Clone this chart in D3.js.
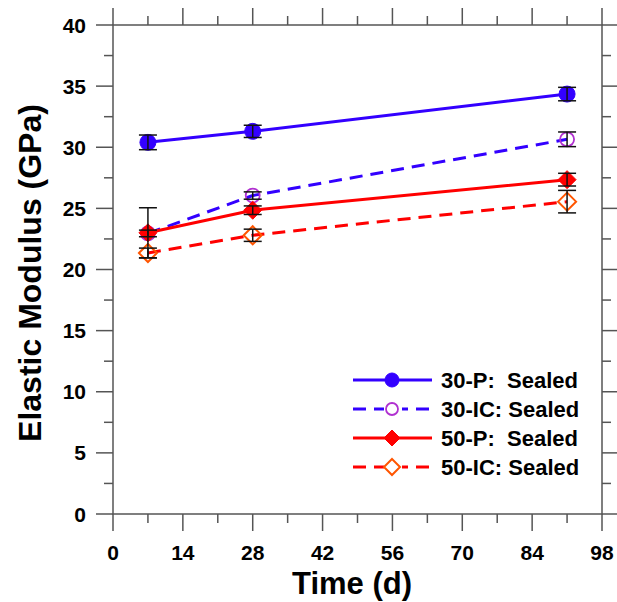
<!DOCTYPE html>
<html>
<head>
<meta charset="utf-8">
<script src="https://cdn.jsdelivr.net/npm/d3@7"></script>
<style>
  body { margin: 0; background: #fff; }
  svg { display: block; }
  text { font-family: Arial, "Liberation Sans", sans-serif; font-weight: bold; fill: #000; }
</style>
</head>
<body>
<svg id="chart" width="617" height="602"></svg>
<script>
// ---- data ----
const days = [7, 28, 91];
const seriesNames = ["30-P:  Sealed", "30-IC: Sealed", "50-P:  Sealed", "50-IC: Sealed"];
const p30 = [30.4, 31.3, 34.35];
const p30Err = [0.6, 0.5, 0.55];
const ic30 = [22.95, 26.05, 30.65];
const ic30Err = [0.27, 0.3, 0.6];
const p50 = [23.0, 24.85, 27.35];
const p50Err = [2.05, 0.35, 0.52];
const ic50 = [21.35, 22.8, 25.55];
const ic50Err = [0.4, 0.5, 0.92];
const xTicks = [0, 14, 28, 42, 56, 70, 84, 98];
const yTicks = [0, 5, 10, 15, 20, 25, 30, 35, 40];

const svg = d3.select("#chart");
const L = 113, R = 602, T = 25, B = 514;
const x = d3.scaleLinear().domain([0, 98]).range([L, R]);
const y = d3.scaleLinear().domain([0, 40]).range([B, T]);

const axisColor = "#555";
// frame
svg.append("rect").attr("x", L).attr("y", T).attr("width", R - L).attr("height", B - T)
  .attr("fill", "none").attr("stroke", axisColor).attr("stroke-width", 1.5);

const xMinor = d3.range(7, 98, 14);
const yMinor = d3.range(2.5, 40, 5);
const tk = svg.append("g").attr("stroke", axisColor).attr("stroke-width", 1.5);
xTicks.forEach(v => {
  tk.append("line").attr("x1", x(v)).attr("x2", x(v)).attr("y1", B).attr("y2", B + 17);
  tk.append("line").attr("x1", x(v)).attr("x2", x(v)).attr("y1", T).attr("y2", T - 17);
});
xMinor.forEach(v => {
  tk.append("line").attr("x1", x(v)).attr("x2", x(v)).attr("y1", B).attr("y2", B + 9);
  tk.append("line").attr("x1", x(v)).attr("x2", x(v)).attr("y1", T).attr("y2", T - 9);
});
yTicks.forEach(v => {
  tk.append("line").attr("y1", y(v)).attr("y2", y(v)).attr("x1", L).attr("x2", L - 17);
  tk.append("line").attr("y1", y(v)).attr("y2", y(v)).attr("x1", R).attr("x2", R + 17);
});
yMinor.forEach(v => {
  tk.append("line").attr("y1", y(v)).attr("y2", y(v)).attr("x1", L).attr("x2", L - 9);
  tk.append("line").attr("y1", y(v)).attr("y2", y(v)).attr("x1", R).attr("x2", R + 9);
});

// tick labels
svg.append("g").selectAll("text").data(xTicks).join("text")
  .attr("x", d => x(d)).attr("y", 560).attr("text-anchor", "middle")
  .attr("font-size", 21).text(d => d);
svg.append("g").selectAll("text").data(yTicks).join("text")
  .attr("x", 86).attr("y", d => y(d)).attr("dy", "0.36em").attr("text-anchor", "end")
  .attr("font-size", 21).text(d => d);

// axis titles
svg.append("text").attr("x", 352).attr("y", 594).attr("text-anchor", "middle")
  .attr("font-size", 31).text("Time (d)");
svg.append("text").attr("transform", "translate(41,273) rotate(-90)").attr("text-anchor", "middle")
  .attr("font-size", 32).text("Elastic Modulus (GPa)");

// series
const series = [
  { vals: p30, err: p30Err, color: "#3300ff", dash: null, marker: "circle", fill: "#3300ff", mstroke: "#3300ff" },
  { vals: ic30, err: ic30Err, color: "#3300ff", dash: "13,8", marker: "circle", fill: "none", mstroke: "#b030d0" },
  { vals: p50, err: p50Err, color: "#ff0000", dash: null, marker: "diamond", fill: "#ff0000", mstroke: "#ff0000" },
  { vals: ic50, err: ic50Err, color: "#ff0000", dash: "13,8", marker: "diamond", fill: "none", mstroke: "#ff5500" }
];

const line = d3.line().x(d => x(d[0])).y(d => y(d[1]));
function drawMarker(g, s, cx, cy, small) {
  if (s.marker === "circle") {
    const r = small ? 7 : 8;
    g.append("circle").attr("cx", cx).attr("cy", cy).attr("r", s.fill === "none" ? r - 1 : r)
      .attr("fill", s.fill === "none" ? "none" : s.fill)
      .attr("stroke", s.mstroke).attr("stroke-width", s.fill === "none" ? 1.8 : 1);
  } else {
    const h = small ? 8 : 9;
    g.append("path")
      .attr("d", `M${cx},${cy - h}L${cx + h},${cy}L${cx},${cy + h}L${cx - h},${cy}Z`)
      .attr("fill", s.fill === "none" ? "none" : s.fill)
      .attr("stroke", s.mstroke).attr("stroke-width", s.fill === "none" ? 2 : 1);
  }
}

const plotG = svg.append("g");
series.forEach(s => {
  const pts = days.map((d, i) => [d, s.vals[i]]);
  plotG.append("path").attr("d", line(pts)).attr("fill", "none")
    .attr("stroke", s.color).attr("stroke-width", 3)
    .attr("stroke-dasharray", s.dash);
});
series.forEach(s => {
  days.forEach((d, i) => {
    drawMarker(plotG, s, x(d), y(s.vals[i]), false);
  });
});
// error bars on top
const eb = svg.append("g").attr("stroke", "#111").attr("stroke-width", 1.5);
series.forEach(s => {
  days.forEach((d, i) => {
    const cx = x(d), y1 = y(s.vals[i] + s.err[i]), y2 = y(s.vals[i] - s.err[i]);
    eb.append("line").attr("x1", cx).attr("x2", cx).attr("y1", y1).attr("y2", y2);
    eb.append("line").attr("x1", cx - 9).attr("x2", cx + 9).attr("y1", y1).attr("y2", y1);
    eb.append("line").attr("x1", cx - 9).attr("x2", cx + 9).attr("y1", y2).attr("y2", y2);
  });
});

// legend
const legY = [380, 409, 438, 467];
const lg = svg.append("g");
series.forEach((s, i) => {
  lg.append("line").attr("x1", 353).attr("x2", 432).attr("y1", legY[i]).attr("y2", legY[i])
    .attr("stroke", s.color).attr("stroke-width", 3).attr("stroke-dasharray", s.dash);
  if (s.fill === "none") {
    lg.append("rect").attr("x", 384).attr("y", legY[i] - 8).attr("width", 18).attr("height", 16).attr("fill", "#fff");
  }
  drawMarker(lg, s, 392, legY[i], true);
  lg.append("text").attr("x", 441).attr("y", legY[i]).attr("dy", "0.36em")
    .attr("font-size", 22).attr("xml:space", "preserve").style("white-space", "pre")
    .text(seriesNames[i]);
});
</script>
</body>
</html>
